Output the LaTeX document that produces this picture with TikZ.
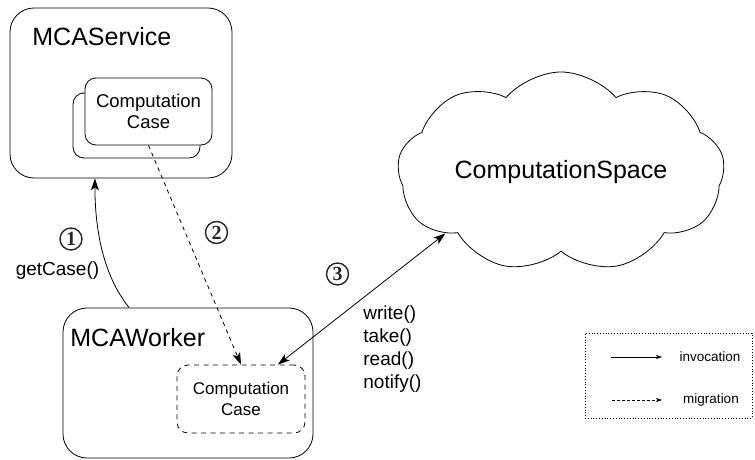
\documentclass[tikz,border=0pt]{standalone}
\usepackage{fontspec}
\setmainfont{Liberation Sans}
\newfontfamily\numfont{Liberation Serif}
\usetikzlibrary{arrows.meta,shapes.symbols}

\begin{document}
\begin{tikzpicture}[
  x=1pt, y=1pt, line width=0.8pt,
  box/.style={draw, rounded corners=24pt},
  casebox/.style={draw, rounded corners=11pt, fill=white, align=center, inner sep=0pt},
  title/.style={font=\fontsize{25}{30}\selectfont, anchor=base west, inner sep=0pt},
  lbl/.style={font=\fontsize{19}{23}\selectfont, align=left, inner sep=0pt},
  num/.style={circle, draw=black!85, line width=1.4pt, minimum size=22pt, inner sep=0pt,
              text=black!85, font=\numfont\bfseries\fontsize{20}{20}\selectfont},
  key/.style={font=\fontsize{13.5}{16}\selectfont, inner sep=0pt},
  call/.style={-{Stealth[length=12pt, width=8pt, inset=3pt]}},
  move/.style={call, dash pattern=on 4pt off 4pt},
  keycall/.style={-{Stealth[length=6pt, width=4pt, inset=1.5pt]}, line width=0.6pt}
]
\useasboundingbox (0,0) rectangle (755,460);

% MCAService and its cases
\node[box, minimum width=222pt, minimum height=170pt] (service) at (121,367) {};
\node[title] (svcname) at (32,414) {MCAService};
\node[casebox, minimum width=127pt, minimum height=65pt] (caseb) at (136.5,334.5) {};
\node[casebox, minimum width=127pt, minimum height=67pt,
      font=\fontsize{18.5}{21}\selectfont] (case1) at (148.5,348.5) {Computation\\Case};

% MCAWorker
\node[box, minimum width=250pt, minimum height=150pt] (worker) at (188,77) {};
\node[title] (wkname) at (70,113) {MCAWorker};
\node[casebox, dash pattern=on 5pt off 4.5pt, minimum width=128pt, minimum height=68pt,
      font=\fontsize{17}{20.5}\selectfont] (case2) at (241,61) {Computation\\Case};

% the space
\node[cloud, draw, cloud puffs=9, cloud puff arc=100, cloud ignores aspect,
      minimum width=327pt, minimum height=200pt, font=\fontsize{25}{30}\selectfont]
  (space) at (561,288) {ComputationSpace};

% steps
\node[num] (n1) at (71,221) {1};
\node[lbl] (getcase) at (57.5,189) {getCase()};
\node[num] (n2) at (216.5,227.5) {2};
\node[num] (n3) at (337.5,186) {3};
\node[lbl, anchor=west] (ops) at (363,111) {write()\\take()\\read()\\notify()};

\draw[call] (worker.128) .. controls (103,185) and (95,230) .. (service.253);
\draw[move] (case1.south) -- (case2.north);
\draw[{Stealth[length=12pt, width=8pt, inset=3pt]}-{Stealth[length=12pt, width=8pt, inset=3pt]}]
  (case2.43) -- (space.208);

% legend
\node[draw, dotted, minimum width=167pt, minimum height=85pt] (legend) at (668.5,84.5) {};
\coordinate (inva) at (611,103);
\coordinate (invb) at (662,103);
\coordinate (miga) at (612,60);
\coordinate (migb) at (662,60);
\draw[keycall] (inva) -- (invb);
\draw[keycall, dash pattern=on 3pt off 2pt] (miga) -- (migb);
\node[key] (invtxt) at (710,103) {invocation};
\node[key] (migtxt) at (711,60) {migration};
\end{tikzpicture}
\end{document}
